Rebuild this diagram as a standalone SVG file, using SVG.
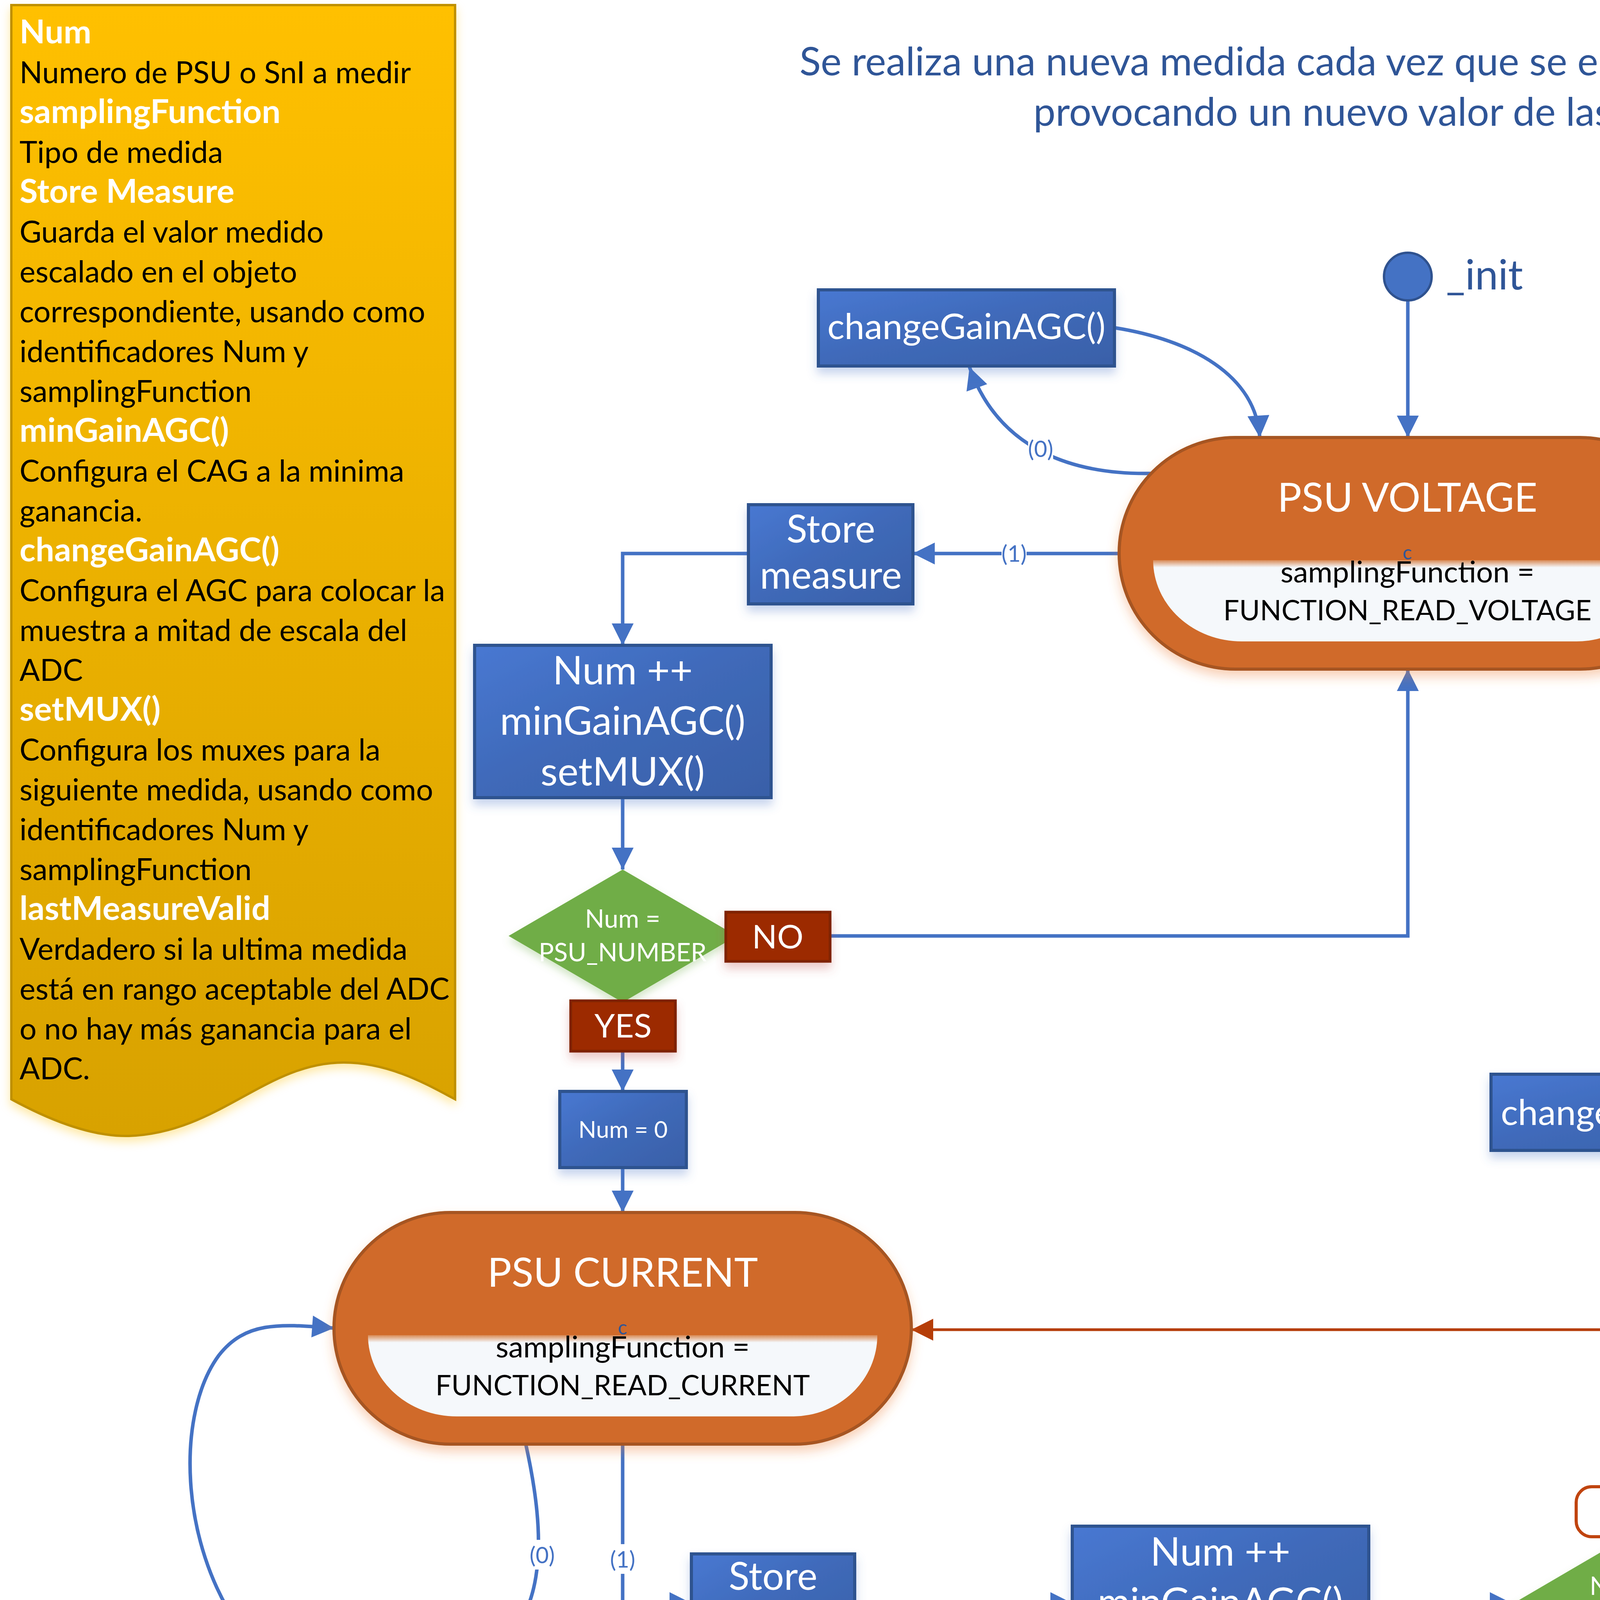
<svg xmlns="http://www.w3.org/2000/svg" width="6531" height="4406" viewBox="0 0 6531 4406">
<defs>
<style>
text{font-family:Lato,"Liberation Sans",sans-serif}
.w{fill:#fff;text-anchor:middle}
.k{fill:#000;text-anchor:middle}
.bt{fill:#2F5597;text-anchor:middle}
.lg{fill:#4472C4;text-anchor:middle;font-size:97px}
.lab{fill:#4472C4;text-anchor:middle;font-size:58px}
.note{font-size:77px;fill:#000}
.nh{font-size:85px;fill:#fff;font-weight:bold}
.st{font-size:103px}
.sub{font-size:76px}
.fn{font-size:72px}
.bx{font-size:92px}
.sm{font-size:98px}
.ni{font-size:101px}
.dt{font-size:65px}
.yn{font-size:84px}
.n0{font-size:60px}
.blue{fill:url(#gBlue);stroke:#2F528F;stroke-width:8;filter:url(#shB)}
.state{fill:#D06B2B;stroke:#A65420;stroke-width:8;filter:url(#shO)}
.inner{fill:url(#gInner)}
.dia{fill:#70AD47;filter:url(#shG)}
.red{fill:#9C2A00;stroke:#7F2200;stroke-width:7;filter:url(#shR)}
.c{fill:none;stroke:#4472C4;stroke-width:9}
.cr{fill:none;stroke:#B53D08;stroke-width:7}
</style>
<linearGradient id="gBlue" x1="0" y1="0" x2="1" y2="1">
<stop offset="0" stop-color="#4878D2"/><stop offset="0.5" stop-color="#3F69B8"/><stop offset="1" stop-color="#3960A8"/>
</linearGradient>
<linearGradient id="gNote" x1="0" y1="0" x2="0" y2="1">
<stop offset="0" stop-color="#FFC000"/><stop offset="1" stop-color="#D8A200"/>
</linearGradient>
<linearGradient id="gInner" x1="0" y1="0" x2="0" y2="1">
<stop offset="0" stop-color="#D98A55"/><stop offset="0.09" stop-color="#F5F8FB"/><stop offset="1" stop-color="#F5F8FB"/>
</linearGradient>
<filter id="shB" x="-10%" y="-10%" width="120%" height="140%"><feDropShadow dx="0" dy="16" stdDeviation="12" flood-color="#4472C4" flood-opacity="0.3"/></filter>
<filter id="shO" x="-10%" y="-10%" width="120%" height="130%"><feDropShadow dx="0" dy="16" stdDeviation="14" flood-color="#ED7D31" flood-opacity="0.35"/></filter>
<filter id="shR" x="-10%" y="-10%" width="120%" height="150%"><feDropShadow dx="0" dy="16" stdDeviation="12" flood-color="#C0504D" flood-opacity="0.3"/></filter>
<filter id="shG" x="-10%" y="-10%" width="120%" height="130%"><feDropShadow dx="0" dy="12" stdDeviation="10" flood-color="#70AD47" flood-opacity="0.3"/></filter>
<filter id="shY" x="-5%" y="-5%" width="110%" height="110%"><feDropShadow dx="0" dy="12" stdDeviation="12" flood-color="#FFC000" flood-opacity="0.35"/></filter>
<marker id="ab" viewBox="0 0 10 10" refX="10" refY="5" markerUnits="userSpaceOnUse" markerWidth="60" markerHeight="56" orient="auto"><path d="M0,0 L10,5 L0,10 z" fill="#4472C4"/></marker>
<marker id="ar" viewBox="0 0 10 10" refX="10" refY="5" markerUnits="userSpaceOnUse" markerWidth="60" markerHeight="56" orient="auto"><path d="M0,0 L10,5 L0,10 z" fill="#B53D08"/></marker>
</defs>
<rect width="6531" height="4406" fill="#fff"/>

<g id="note">
<path d="M29,13 H1165 V2814 C1100,2780 1000,2720 880,2720 C680,2720 560,2900 330,2908 C250,2910 150,2880 29,2814 Z" fill="url(#gNote)" stroke="#BF9000" stroke-width="6" filter="url(#shY)"/>
<text x="50" y="111" class="nh">Num</text>
<text x="50" y="213" class="note">Numero de PSU o SnI a medir</text>
<text x="50" y="315" class="nh">samplingFunction</text>
<text x="50" y="417" class="note">Tipo de medida</text>
<text x="50" y="519" class="nh">Store Measure</text>
<text x="50" y="621" class="note">Guarda el valor medido</text>
<text x="50" y="723" class="note">escalado en el objeto</text>
<text x="50" y="825" class="note">correspondiente, usando como</text>
<text x="50" y="927" class="note">identificadores Num y</text>
<text x="50" y="1029" class="note">samplingFunction</text>
<text x="50" y="1131" class="nh">minGainAGC()</text>
<text x="50" y="1233" class="note">Configura el CAG a la minima</text>
<text x="50" y="1335" class="note">ganancia.</text>
<text x="50" y="1437" class="nh">changeGainAGC()</text>
<text x="50" y="1539" class="note">Configura el AGC para colocar la</text>
<text x="50" y="1641" class="note">muestra a mitad de escala del</text>
<text x="50" y="1743" class="note">ADC</text>
<text x="50" y="1845" class="nh">setMUX()</text>
<text x="50" y="1947" class="note">Configura los muxes para la</text>
<text x="50" y="2049" class="note">siguiente medida, usando como</text>
<text x="50" y="2151" class="note">identificadores Num y</text>
<text x="50" y="2253" class="note">samplingFunction</text>
<text x="50" y="2355" class="nh">lastMeasureValid</text>
<text x="50" y="2457" class="note">Verdadero si la ultima medida</text>
<text x="50" y="2559" class="note">está en rango aceptable del ADC</text>
<text x="50" y="2661" class="note">o no hay más ganancia para el</text>
<text x="50" y="2763" class="note">ADC.</text>
</g>

<g id="title">
<text x="3690" y="193" class="bt" font-size="101">Se realiza una nueva medida cada vez que se entra en un estado (naranjas),</text>
<text x="3700" y="322" class="bt" font-size="101">provocando un nuevo valor de lastMeasureValid</text>
</g>

<g id="legend">
<rect x="5165" y="483" width="1301" height="475" fill="#fff" stroke="#4472C4" stroke-width="7"/>
<text x="5815" y="622" class="lg">INPUT → (lastMeasureValid)</text>
<text x="5815" y="755" class="lg">PSU_NUMBER = 12</text>
<text x="5815" y="885" class="lg">SnI_NUMBER = 14</text>
</g>

<g id="connectors">
<path class="c" d="M3604,769 V1120" marker-end="url(#ab)"/>
<path class="c" d="M2853,839 C3050,870 3215,960 3225,1120" marker-end="url(#ab)"/>
<path class="c" d="M2946,1212 C2760,1215 2560,1160 2482,940" marker-end="url(#ab)"/>
<path class="c" d="M2865,1417 H2337" marker-end="url(#ab)"/>
<path class="c" d="M1916,1417 H1594 V1652" marker-end="url(#ab)"/>
<path class="c" d="M1594,2042 V2226" marker-end="url(#ab)"/>
<path class="c" d="M2125,2396 H3604 V1713" marker-end="url(#ab)"/>
<path class="c" d="M1594,2691 V2794" marker-end="url(#ab)"/>
<path class="c" d="M1594,2989 V3104" marker-end="url(#ab)"/>
<path class="c" d="M1346,3697 C1395,3920 1420,4190 1183,4270" marker-end="url(#ab)"/>
<path class="c" d="M614,4167 C460,3950 450,3620 560,3470 C630,3380 720,3390 855,3400" marker-end="url(#ab)"/>
<path class="c" d="M1594,3697 V4104 H1770" marker-end="url(#ab)"/>
<path class="c" d="M2188,4104 H2745" marker-end="url(#ab)"/>
<path class="c" d="M3504,4104 H3870" marker-end="url(#ab)"/>
<path class="c" d="M4722,4104 H5449" marker-end="url(#ab)"/>
<path class="c" d="M5610,4006 V3697" marker-end="url(#ab)"/>
<path class="cr" d="M4165,3806 V3404 H2333" marker-end="url(#ar)"/>
<path class="c" d="M5610,3104 V2766" marker-end="url(#ab)"/>
<path class="c" d="M5610,2515 V2281" marker-end="url(#ab)"/>
<path class="c" d="M5610,1888 V1594" marker-end="url(#ab)"/>
<path class="c" d="M5047,1417 H4780" marker-end="url(#ab)"/>
<path class="c" d="M4457,1417 H4342" marker-end="url(#ab)"/>
<path class="c" d="M6174,1417 H6523 V3400 H6348" marker-end="url(#ab)"/>
<path class="c" d="M5280,3106 C5200,2940 4860,2820 4585,2850" marker-end="url(#ab)"/>
<path class="c" d="M4200,2945 C4215,3080 4270,3200 4420,3290 C4560,3370 4700,3408 4873,3400" marker-end="url(#ab)"/>
<g id="edge-labels">
<rect x="2564" y="1378" width="64" height="76" fill="#fff"/>
<text x="2596" y="1438" class="lab">(1)</text>
<rect x="2632" y="1110" width="64" height="76" fill="#fff"/>
<text x="2664" y="1170" class="lab">(0)</text>
<rect x="5578" y="2894" width="64" height="76" fill="#fff"/>
<text x="5610" y="2954" class="lab">(1)</text>
<rect x="5134" y="2948" width="64" height="76" fill="#fff"/>
<text x="5166" y="3008" class="lab">(0)</text>
<rect x="1356" y="3942" width="64" height="76" fill="#fff"/>
<text x="1388" y="4002" class="lab">(0)</text>
<rect x="1562" y="3953" width="64" height="76" fill="#fff"/>
<text x="1594" y="4013" class="lab">(1)</text>
</g>
</g>

<g id="init">
<circle cx="3604" cy="708" r="61" fill="#4472C4" stroke="#2F528F" stroke-width="6"/>
<text x="3702" y="741" font-size="106" fill="#2F5597">_init</text>
</g>

<g id="psu-voltage">
<rect x="2865" y="1120" width="1477" height="593" rx="298" ry="296" class="state"/>
<path class="inner" d="M2952,1434 H4253 A217 208 0 0 1 4036,1642 H3179 A227 208 0 0 1 2952,1434 Z"/>
<text x="3603" y="1310" class="w st">PSU VOLTAGE</text>
<text x="3603" y="1432" class="bt" font-size="50">c</text>
<text x="3603" y="1491" class="k sub">samplingFunction =</text>
<text x="3603" y="1588" class="k fn">FUNCTION_READ_VOLTAGE</text>
</g>

<g id="psu-current">
<rect x="855" y="3104" width="1478" height="593" rx="298" ry="296" class="state"/>
<path class="inner" d="M942,3418 H2246 A217 208 0 0 1 2029,3626 H1169 A227 208 0 0 1 942,3418 Z"/>
<text x="1594" y="3294" class="w st">PSU CURRENT</text>
<text x="1594" y="3416" class="bt" font-size="50">c</text>
<text x="1594" y="3475" class="k sub">samplingFunction =</text>
<text x="1594" y="3572" class="k fn">FUNCTION_READ_CURRENT</text>
</g>

<g id="sni-voltage">
<rect x="4873" y="3104" width="1475" height="593" rx="298" ry="296" class="state"/>
<path class="inner" d="M4960,3418 H6261 A217 208 0 0 1 6044,3626 H5187 A227 208 0 0 1 4960,3418 Z"/>
<text x="5610" y="3294" class="w st">SnI VOLTAGE</text>
<text x="5610" y="3416" class="bt" font-size="50">c</text>
<text x="5610" y="3475" class="k sub">samplingFunction =</text>
<text x="5610" y="3572" class="k fn">FUNCTION_SUPPLY_INTERNAL</text>
</g>

<g id="changegain-top">
<rect x="2095" y="742" width="758" height="195" class="blue"/>
<text x="2474" y="868" class="w bx">changeGainAGC()</text>
</g>

<g id="store-top">
<rect x="1916" y="1292" width="421" height="254" class="blue"/>
<text x="2127" y="1389" class="w sm">Store</text>
<text x="2127" y="1507" class="w sm">measure</text>
</g>

<g id="num-inc-left">
<rect x="1215" y="1652" width="759" height="390" class="blue"/>
<text x="1594" y="1752" class="w ni">Num ++</text>
<text x="1594" y="1881" class="w ni">minGainAGC()</text>
<text x="1594" y="2011" class="w ni">setMUX()</text>
</g>

<g id="dec-psu-left">
<polygon points="1594,2226 1886,2396 1594,2566 1302,2396" class="dia"/>
<text x="1594" y="2375" class="w dt">Num =</text>
<text x="1594" y="2461" class="w dt">PSU_NUMBER</text>
</g>

<g id="no-left">
<rect x="1858" y="2335" width="267" height="126" class="red"/>
<text x="1991" y="2428" class="w yn">NO</text>
</g>

<g id="yes-left">
<rect x="1461" y="2562" width="268" height="129" class="red"/>
<text x="1595" y="2656" class="w yn">YES</text>
</g>

<g id="num0-left">
<rect x="1433" y="2794" width="324" height="195" class="blue"/>
<text x="1595" y="2913" class="w n0">Num = 0</text>
</g>

<g id="changegain-bottom">
<rect x="420" y="4167" width="758" height="193" class="blue"/>
<text x="799" y="4287" class="w bx">changeGainAGC()</text>
</g>

<g id="store-bottom">
<rect x="1770" y="3978" width="418" height="252" class="blue"/>
<text x="1979" y="4070" class="w sm">Store</text>
<text x="1979" y="4190" class="w sm">measure</text>
</g>

<g id="num-inc-bottom">
<rect x="2745" y="3907" width="759" height="394" class="blue"/>
<text x="3124" y="4008" class="w ni">Num ++</text>
<text x="3124" y="4137" class="w ni">minGainAGC()</text>
<text x="3124" y="4266" class="w ni">setMUX()</text>
</g>

<g id="dec-psu-bottom">
<polygon points="4166,3934 4462,4107 4166,4281 3870,4107" class="dia"/>
<text x="4166" y="4083" class="w dt">Num =</text>
<text x="4166" y="4172" class="w dt">PSU_NUMBER</text>
</g>

<g id="no-bottom">
<rect x="4035" y="3806" width="260" height="128" rx="40" ry="40" fill="#fff" stroke="#C0440F" stroke-width="8"/>
<text x="4165" y="3900" class="yn" fill="#C0440F" text-anchor="middle">NO</text>
</g>

<g id="yes-bottom">
<rect x="4458" y="4039" width="264" height="129" class="red"/>
<text x="4590" y="4133" class="w yn">YES</text>
</g>

<g id="num0-bottom">
<rect x="5449" y="4006" width="321" height="196" class="blue"/>
<text x="5610" y="4126" class="w n0">Num = 0</text>
</g>

<g id="changegain-right">
<rect x="3817" y="2750" width="762" height="195" class="blue"/>
<text x="4198" y="2880" class="w bx">changeGainAGC()</text>
</g>

<g id="store-right">
<rect x="5402" y="2515" width="417" height="251" class="blue"/>
<text x="5610" y="2609" class="w sm">Store</text>
<text x="5610" y="2728" class="w sm">measure</text>
</g>

<g id="num-inc-right">
<rect x="5230" y="1888" width="760" height="393" class="blue"/>
<text x="5610" y="1984" class="w ni">Num ++</text>
<text x="5610" y="2114" class="w ni">minGainAGC()</text>
<text x="5610" y="2244" class="w ni">setMUX()</text>
</g>

<g id="dec-sni">
<polygon points="5611,1241 5905,1417 5611,1594 5317,1417" class="dia"/>
<text x="5611" y="1391" class="w dt">Num =</text>
<text x="5611" y="1482" class="w dt">SnI_NUMBER</text>
</g>

<g id="yes-right">
<rect x="5047" y="1353" width="266" height="129" class="red"/>
<text x="5180" y="1447" class="w yn">YES</text>
</g>

<g id="no-right">
<rect x="5908" y="1353" width="266" height="129" class="red"/>
<text x="6041" y="1447" class="w yn">NO</text>
</g>

<g id="num0-right">
<rect x="4457" y="1319" width="323" height="196" class="blue"/>
<text x="4618" y="1439" class="w n0">Num = 0</text>
</g>
</svg>
